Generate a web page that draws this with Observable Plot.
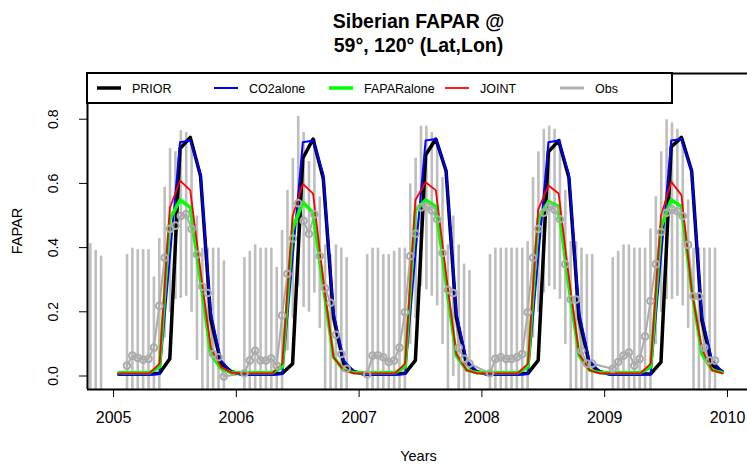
<!DOCTYPE html>
<html><head><meta charset="utf-8">
<script src="https://cdn.jsdelivr.net/npm/d3@7"></script>
<script src="https://cdn.jsdelivr.net/npm/@observablehq/plot@0.6"></script>
<style>
body{margin:0;background:#fff}
#chart{position:relative;width:747px;height:468px;overflow:hidden}
</style>
</head><body><div id="chart"></div>
<script>
// ---------- DATA ----------
const title1 = "Siberian FAPAR @";
const title2 = "59°, 120° (Lat,Lon)";
const xLabel = "Years";
const yLabel = "FAPAR";
const xTicks = [2005, 2006, 2007, 2008, 2009, 2010];
const yTicks = [0.0, 0.2, 0.4, 0.6, 0.8];
const seriesNames = ["PRIOR", "CO2alone", "FAPARalone", "JOINT", "Obs"];

const years = [2005, 2006, 2007, 2008, 2009];
// monthly model values, Jan..Dec for each year
const prior = [
  0.008,0.008,0.008,0.008,0.010,0.055,0.710,0.745,0.625,0.180,0.040,0.015,
  0.008,0.008,0.008,0.008,0.010,0.040,0.680,0.740,0.617,0.185,0.040,0.015,
  0.008,0.008,0.008,0.008,0.010,0.050,0.690,0.740,0.640,0.185,0.040,0.015,
  0.008,0.008,0.008,0.008,0.010,0.050,0.700,0.735,0.620,0.180,0.040,0.015,
  0.008,0.008,0.008,0.008,0.008,0.045,0.715,0.745,0.640,0.175,0.035,0.015
];
const co2alone = [
  0.005,0.005,0.005,0.005,0.008,0.370,0.730,0.735,0.630,0.200,0.050,0.015,
  0.005,0.005,0.005,0.005,0.008,0.370,0.730,0.735,0.630,0.200,0.050,0.015,
  0.005,0.005,0.005,0.005,0.008,0.380,0.735,0.740,0.645,0.200,0.050,0.015,
  0.005,0.005,0.005,0.005,0.008,0.370,0.730,0.735,0.630,0.200,0.050,0.015,
  0.005,0.005,0.005,0.005,0.008,0.370,0.735,0.740,0.640,0.190,0.050,0.015
];
const faparalone = [
  0.012,0.012,0.012,0.012,0.030,0.490,0.550,0.527,0.300,0.070,0.025,0.012,
  0.012,0.012,0.012,0.012,0.030,0.460,0.543,0.510,0.280,0.060,0.020,0.012,
  0.012,0.012,0.012,0.012,0.030,0.517,0.550,0.530,0.290,0.065,0.020,0.012,
  0.012,0.012,0.012,0.012,0.030,0.490,0.545,0.530,0.280,0.065,0.020,0.012,
  0.012,0.012,0.012,0.012,0.030,0.465,0.550,0.530,0.270,0.070,0.020,0.012
];
const joint = [
  0.010,0.010,0.010,0.010,0.040,0.525,0.610,0.580,0.330,0.090,0.030,0.012,
  0.010,0.010,0.010,0.010,0.040,0.500,0.600,0.570,0.300,0.060,0.020,0.010,
  0.010,0.010,0.010,0.010,0.040,0.550,0.605,0.580,0.320,0.070,0.020,0.010,
  0.010,0.010,0.010,0.010,0.040,0.520,0.595,0.570,0.310,0.070,0.020,0.010,
  0.010,0.010,0.010,0.010,0.040,0.500,0.607,0.565,0.270,0.085,0.020,0.010
];

// 16-day observations: year, composite centre day-of-year, value, bar top, bar bottom
const obsYear = [
  2004,2004,2004,
  2005,2005,2005,2005,2005,2005,2005,2005,2005,2005,2005,2005,2005,2005,2005,2005,2005,2005,2005,
  2006,2006,2006,2006,2006,2006,2006,2006,2006,2006,2006,2006,2006,2006,2006,2006,2006,2006,2006,2006,
  2007,2007,2007,2007,2007,2007,2007,2007,2007,2007,2007,2007,2007,2007,2007,2007,2007,2007,2007,2007,
  2008,2008,2008,2008,2008,2008,2008,2008,2008,2008,2008,2008,2008,2008,2008,2008,2008,2008,2008,2008,
  2009,2009,2009,2009,2009,2009,2009,2009,2009,2009,2009,2009,2009,2009,2009,2009,2009,2009,2009,2009
];
const obsDoy = [
  296,312,328,
  40,56,72,88,104,120,136,152,168,184,200,216,232,248,264,280,296,312,328,
  24,40,56,72,88,104,120,136,152,168,184,200,216,232,248,264,280,296,312,328,
  24,40,56,72,88,104,120,136,152,168,184,200,216,232,248,264,280,296,312,328,
  24,40,56,72,88,104,120,136,152,168,184,200,216,232,248,264,280,296,312,328,
  24,40,56,72,88,104,120,136,152,168,184,200,216,232,248,264,280,296,312,328
];
const obsVal = [
  null,null,null,
  0.034,0.065,0.058,0.052,0.055,0.090,0.220,0.370,0.460,0.470,0.500,0.505,0.460,0.380,0.280,0.260,0.070,0.060,0.000,
  0.010,0.050,0.080,0.050,0.050,0.056,0.034,0.190,0.320,0.430,0.540,0.485,0.445,0.505,0.375,0.275,0.230,0.130,0.070,0.024,
  0.006,0.065,0.066,0.060,0.045,0.050,0.090,0.200,0.375,0.445,0.527,0.530,0.517,0.490,0.385,0.270,0.260,0.090,0.055,0.040,
  0.010,0.055,0.060,0.055,0.055,0.060,0.070,0.200,0.370,0.460,0.510,0.530,0.520,0.490,0.350,0.240,0.240,0.080,0.040,0.040,
  0.024,0.045,0.065,0.075,0.034,0.055,0.125,0.235,0.350,0.450,0.510,0.520,0.515,0.500,0.410,0.250,0.250,0.090,0.050,0.050
];
const obsHi = [
  0.414,0.393,0.375,
  0.380,0.400,0.395,0.395,0.395,0.310,0.430,0.590,0.710,0.700,0.766,0.760,0.725,0.500,0.400,0.400,0.400,0.400,0.360,
  0.370,0.390,0.410,0.400,0.400,0.400,0.340,0.455,0.580,0.680,0.810,0.760,0.670,0.740,0.560,0.410,0.380,0.410,0.400,0.370,
  0.380,0.400,0.400,0.380,0.380,0.390,0.400,0.400,0.600,0.680,0.780,0.780,0.760,0.720,0.620,0.410,0.500,0.410,0.350,0.330,
  0.380,0.400,0.400,0.400,0.400,0.400,0.400,0.420,0.620,0.700,0.770,0.780,0.770,0.740,0.580,0.420,0.420,0.400,0.380,0.380,
  0.370,0.390,0.410,0.410,0.400,0.400,0.400,0.460,0.560,0.700,0.800,0.790,0.770,0.740,0.550,0.400,0.400,0.400,0.400,0.400
];
const obsLo = [
  -0.30,-0.30,-0.30,
  -0.30,-0.30,-0.30,-0.30,-0.30,-0.30,-0.05,0.12,0.20,0.24,0.243,0.25,0.20,0.05,-0.05,-0.05,-0.30,-0.30,-0.30,
  -0.30,-0.30,-0.30,-0.30,-0.30,-0.30,-0.30,-0.05,0.08,0.18,0.28,0.215,0.20,0.26,0.15,-0.05,-0.05,-0.30,-0.30,-0.30,
  -0.30,-0.30,-0.30,-0.30,-0.30,-0.30,-0.30,-0.05,0.10,0.18,0.28,0.27,0.25,0.22,0.10,-0.05,0.00,-0.30,-0.30,-0.30,
  -0.30,-0.30,-0.30,-0.30,-0.30,-0.30,-0.30,-0.05,0.12,0.20,0.26,0.28,0.27,0.24,0.10,-0.05,-0.05,-0.30,-0.30,-0.30,
  -0.30,-0.30,-0.30,-0.30,-0.30,-0.30,-0.30,-0.05,0.10,0.20,0.24,0.24,0.25,0.22,0.15,-0.05,-0.05,-0.30,-0.30,-0.30
];

// ---------- BUILD TABLES ----------
const model = [];
years.forEach((yr, yi) => {
  for (let m = 0; m < 12; m++) {
    const i = yi * 12 + m;
    model.push({t: yr + (m + 0.5) / 12, prior: prior[i], co2: co2alone[i], fapar: faparalone[i], joint: joint[i]});
  }
});
const obs = obsYear.map((yr, i) => ({t: yr + obsDoy[i] / 365, v: obsVal[i], hi: obsHi[i], lo: obsLo[i]}));
const obsPts = obs.filter(d => d.v !== null);

const xDomain = [2004.788, 2010.163];
const yDomain = [-0.0405, 0.944];
const colors = {PRIOR: "#000000", CO2alone: "#0000FF", FAPARalone: "#00FF00", JOINT: "#FF0000", Obs: "#B0B0B0"};
const widths = {PRIOR: 3.5, CO2alone: 2, FAPARalone: 3.5, JOINT: 1.8, Obs: 3};
const ff = "'Liberation Sans', Arial, sans-serif";

const plot = Plot.plot({
  width: 747, height: 468,
  marginLeft: 87, marginRight: 0, marginTop: 73, marginBottom: 79,
  style: {fontFamily: ff, background: "white", color: "black"},
  x: {domain: xDomain},
  y: {domain: yDomain, axis: null},
  marks: [
    Plot.ruleX(obs, {x: "t", y1: "lo", y2: "hi", stroke: "#BEBEBE", strokeWidth: 2.6, clip: true}),
    Plot.line(obsPts, {x: "t", y: "v", stroke: "#ABABAB", strokeWidth: 2, clip: true}),
    Plot.line(model, {x: "t", y: "prior", stroke: colors.PRIOR, strokeWidth: widths.PRIOR}),
    Plot.line(model, {x: "t", y: "co2", stroke: colors.CO2alone, strokeWidth: widths.CO2alone}),
    Plot.line(model, {x: "t", y: "fapar", stroke: colors.FAPARalone, strokeWidth: widths.FAPARalone}),
    Plot.line(model, {x: "t", y: "joint", stroke: colors.JOINT, strokeWidth: widths.JOINT}),
    Plot.dot(obsPts, {x: "t", y: "v", r: 3.3, stroke: "#ABABAB", strokeWidth: 2, fill: "none", clip: true}),
    Plot.axisX({ticks: xTicks, tickFormat: d => String(d), tickSize: 8, tickPadding: 14, fontSize: 16, label: null}),
    Plot.ruleX([xDomain[0]], {stroke: "black", strokeWidth: 2}),
    Plot.ruleY([yDomain[0]], {stroke: "black", strokeWidth: 2}),
    Plot.ruleY([yDomain[1]], {stroke: "black", strokeWidth: 2})
  ]
});

const svg = d3.select(plot);
const ys = plot.scale("y");
// Y axis ticks and rotated labels (R style)
const yAxisG = svg.append("g");
yTicks.forEach(v => {
  const py = ys.apply(v);
  yAxisG.append("line").attr("x1", 79).attr("x2", 87).attr("y1", py).attr("y2", py)
    .attr("stroke", "black").attr("stroke-width", 1);
  yAxisG.append("text").attr("transform", `translate(53,${py}) rotate(-90)`)
    .attr("text-anchor", "middle").attr("dy", "0.35em")
    .attr("font-family", ff).attr("font-size", 14).attr("fill", "black")
    .text(d3.format(".1f")(v));
});
// Title
svg.append("text").attr("x", 418.5).attr("y", 28).attr("text-anchor", "middle")
  .attr("font-family", ff).attr("font-weight", "bold").attr("font-size", 19.5).text(title1);
svg.append("text").attr("x", 418.5).attr("y", 52).attr("text-anchor", "middle")
  .attr("font-family", ff).attr("font-weight", "bold").attr("font-size", 19.5).text(title2);
// Axis labels
svg.append("text").attr("x", 418.5).attr("y", 461).attr("text-anchor", "middle")
  .attr("font-family", ff).attr("font-size", 14.5).text(xLabel);
svg.append("text").attr("transform", "translate(22,231) rotate(-90)").attr("text-anchor", "middle")
  .attr("font-family", ff).attr("font-size", 14.5).text(yLabel);
// Legend
const lg = svg.append("g");
lg.append("rect").attr("x", 87).attr("y", 73).attr("width", 585).attr("height", 30)
  .attr("fill", "white").attr("stroke", "black").attr("stroke-width", 2);
const lx = {PRIOR: 97, CO2alone: 214, FAPARalone: 329, JOINT: 445, Obs: 560};
seriesNames.forEach(name => {
  lg.append("line").attr("x1", lx[name]).attr("x2", lx[name] + 24).attr("y1", 88).attr("y2", 88)
    .attr("stroke", colors[name]).attr("stroke-width", widths[name]);
  lg.append("text").attr("x", lx[name] + 35).attr("y", 92.5).attr("text-anchor", "start")
    .attr("font-family", ff).attr("font-size", 12.5).text(name);
});

document.getElementById("chart").appendChild(plot);
</script></body></html>
